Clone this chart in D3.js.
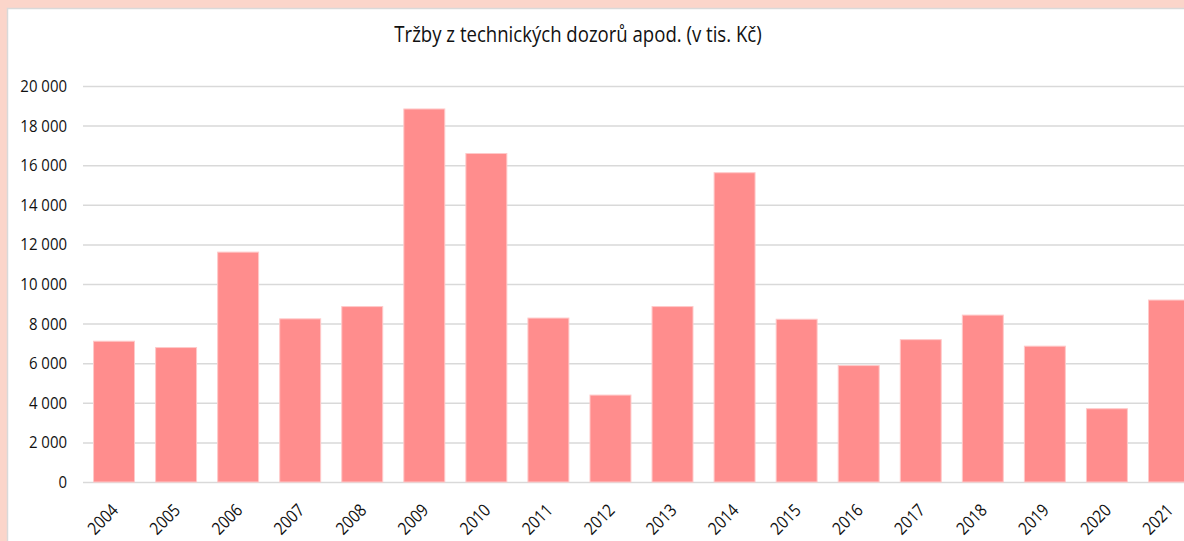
<!DOCTYPE html>
<html><head><meta charset="utf-8">
<script src="https://cdn.jsdelivr.net/npm/d3@7"></script>
<style>
html,body{margin:0;padding:0;background:#fbd5ca;overflow:hidden}
svg{display:block}
text{font-family:"Open Sans",sans-serif;fill:#111}
</style></head>
<body>
<svg id="c" width="1184" height="541"></svg>
<script>
const title = "Tržby z technických dozorů apod. (v tis. Kč)";
const years = ["2004","2005","2006","2007","2008","2009","2010","2011","2012","2013","2014","2015","2016","2017","2018","2019","2020","2021"];
const values = [7110,6790,11610,8240,8860,18840,16590,8280,4390,8860,15620,8220,5880,7190,8430,6860,3700,9190];
const yTicks = [0,2000,4000,6000,8000,10000,12000,14000,16000,18000,20000];

const svg = d3.select("#c");
svg.append("rect").attr("x",0).attr("y",0).attr("width",1184).attr("height",541).attr("fill","#fbd5ca");
svg.append("rect").attr("x",7.5).attr("y",8.5).attr("width",1200).attr("height",560)
  .attr("fill","#fff").attr("stroke","#d9d9d9").attr("stroke-width",1.5);

const x = d3.scaleBand().domain(years).range([83,1200]).paddingInner(0.34).paddingOuter(0.17);
const y = d3.scaleLinear().domain([0,20000]).range([482,86]);

const fmt = v => d3.format(",")(v).replace(/,/g," ");

const yAxis = svg.append("g").attr("transform","translate(83,0)")
  .call(d3.axisLeft(y).tickValues(yTicks).tickSize(-1120).tickFormat(fmt).tickPadding(16));
yAxis.select(".domain").remove();
yAxis.selectAll("line").attr("stroke","#d9d9d9").attr("stroke-width",1.5);
yAxis.selectAll("text").attr("font-size",17).style("font-family",'"Open Sans",sans-serif').attr("fill","#111")
  .attr("x",null).attr("transform","translate(-16,0) scale(0.88,1)");

svg.append("g").selectAll("rect").data(values).join("rect")
  .attr("x",(d,i)=>x(years[i]))
  .attr("y",d=>y(d))
  .attr("width",x.bandwidth())
  .attr("height",d=>y(0)-y(d))
  .attr("fill","#ff8d8d")
  .attr("stroke","#ffc9c9").attr("stroke-width",1);

const xAxis = svg.append("g").attr("transform","translate(0,482)")
  .call(d3.axisBottom(x).tickSize(0).tickPadding(0));
xAxis.select(".domain").remove();
xAxis.selectAll("text")
  .attr("font-size",17.5).style("font-family",'"Open Sans",sans-serif').attr("fill","#111")
  .attr("text-anchor","end")
  .attr("dy","0.35em")
  .attr("transform","translate(1,25) rotate(-45) scale(0.86,1)");

svg.append("text").attr("x",578).attr("y",42).attr("text-anchor","middle")
  .attr("font-size",21).attr("transform","translate(578,0) scale(0.885,1) translate(-578,0)").text(title);
</script>
</body></html>
